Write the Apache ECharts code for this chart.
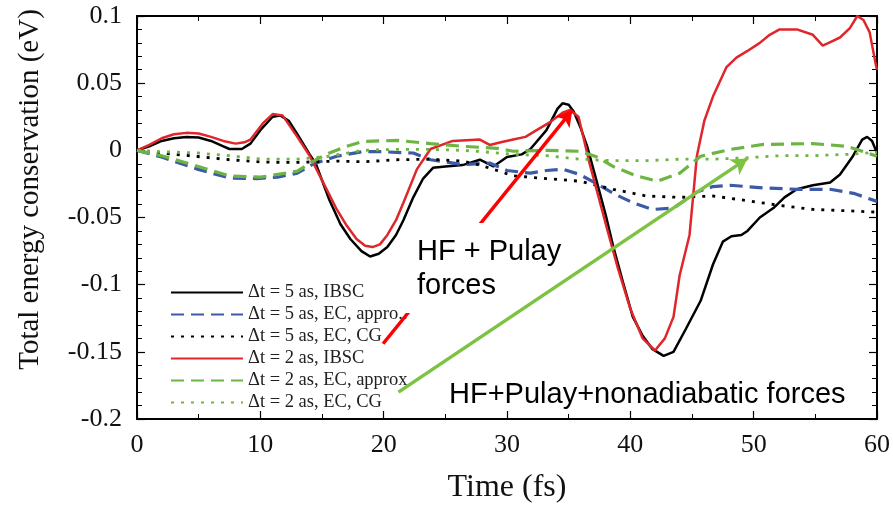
<!DOCTYPE html>
<html>
<head>
<meta charset="utf-8">
<script src="https://cdn.jsdelivr.net/npm/echarts@6/dist/echarts.min.js"></script>
<style>
  html, body { margin: 0; padding: 0; background: #fff; }
  #main { width: 893px; height: 509px; }
</style>
</head>
<body>
<div id="main"></div>
<script>
// values (time in fs, energy in eV)
const tIbsc5 = [0, 1, 2, 3, 4, 5, 6, 7, 7.5, 8.5, 9.2, 10, 11, 11.6, 12.3, 13, 14, 14.5, 15.6, 16.5, 17.3, 18.2, 18.9, 19.6, 20.3, 21, 21.6, 22.4, 23.2, 24, 25, 26.4, 27.8, 28.9, 30, 31.2, 31.9, 33.2, 34.1, 34.5, 35, 35.4, 36, 36.5, 37.3, 38, 38.6, 39.4, 40.2, 41, 41.8, 42.7, 43.5, 44.5, 45.7, 46.7, 47.5, 48.2, 49, 49.5, 50.5, 51.6, 52.5, 53.5, 54.8, 56.2, 57, 58, 58.8, 59.2, 59.6, 60];
const vIbsc5 = [0, 0.003, 0.007, 0.009, 0.010, 0.0095, 0.007, 0.003, 0.001, 0.001, 0.005, 0.015, 0.025, 0.026, 0.022, 0.012, -0.003, -0.010, -0.037, -0.055, -0.066, -0.075, -0.079, -0.077, -0.072, -0.063, -0.052, -0.035, -0.021, -0.013, -0.012, -0.011, -0.007, -0.012, -0.005, -0.003, 0.001, 0.015, 0.031, 0.035, 0.034, 0.029, 0.016, 0.003, -0.024, -0.048, -0.071, -0.098, -0.124, -0.138, -0.148, -0.153, -0.150, -0.133, -0.112, -0.085, -0.068, -0.064, -0.063, -0.060, -0.050, -0.043, -0.035, -0.029, -0.026, -0.024, -0.018, -0.005, 0.008, 0.010, 0.007, -0.002];

const tApprox5 = [0, 2, 4.9, 7.5, 9.7, 11.4, 13, 14.3, 16.2, 18.3, 19.7, 22.4, 23.8, 26.4, 28.6, 30, 31.9, 33.2, 34.5, 35.9, 37.3, 38.6, 40.2, 41.8, 43.5, 45.4, 46.7, 48.1, 50.8, 53.5, 56.2, 58.1, 60];
const vApprox5 = [0, -0.005, -0.014, -0.0206, -0.021, -0.020, -0.017, -0.010, -0.0044, -0.001, -0.001, -0.002, -0.007, -0.0106, -0.0095, -0.015, -0.017, -0.015, -0.014, -0.018, -0.025, -0.032, -0.039, -0.044, -0.043, -0.031, -0.027, -0.026, -0.028, -0.029, -0.029, -0.032, -0.038];

const tCg5 = [0, 2, 4.9, 7.5, 10.2, 13, 16.2, 18.5, 21, 23.8, 26.4, 27.8, 29.2, 30.5, 33.2, 35.9, 38.6, 41.3, 44, 46.7, 49.5, 52.1, 54.8, 57.6, 60];
const vCg5 = [0, -0.002, -0.0046, -0.007, -0.0088, -0.009, -0.008, -0.0085, -0.007, -0.0066, -0.008, -0.011, -0.015, -0.019, -0.021, -0.023, -0.029, -0.034, -0.035, -0.034, -0.0375, -0.041, -0.044, -0.045, -0.046];

const tIbsc2 = [0, 1, 2, 3, 4, 5, 6, 7, 8, 8.7, 9.2, 10.2, 11, 11.8, 13, 14, 15.1, 16.2, 17, 17.8, 18.5, 19.1, 19.7, 20.3, 21, 21.6, 22.7, 23.8, 25.6, 27.8, 28.6, 29.5, 30.5, 31.5, 32.4, 33.5, 34.5, 35.1, 35.8, 36.7, 38.1, 39, 40, 41, 42, 42.8, 43.5, 44, 44.8, 45.4, 46, 46.7, 47.8, 48.6, 49.5, 50.5, 51.3, 52.1, 53.5, 54.8, 55.6, 56.3, 57, 57.8, 58.4, 58.9, 59.4, 59.9, 60];
const vIbsc2 = [0, 0.004, 0.009, 0.012, 0.013, 0.0125, 0.010, 0.007, 0.005, 0.006, 0.008, 0.020, 0.027, 0.026, 0.010, -0.004, -0.024, -0.044, -0.056, -0.066, -0.071, -0.072, -0.070, -0.063, -0.052, -0.039, -0.014, 0.001, 0.007, 0.008, 0.004, 0.006, 0.008, 0.010, 0.015, 0.021, 0.028, 0.030, 0.025, -0.010, -0.058, -0.088, -0.118, -0.140, -0.149, -0.140, -0.124, -0.093, -0.063, -0.004, 0.022, 0.040, 0.062, 0.069, 0.074, 0.080, 0.086, 0.090, 0.090, 0.086, 0.078, 0.081, 0.084, 0.091, 0.100, 0.097, 0.088, 0.064, 0.060];

const tApprox2 = [0, 2, 4.9, 7.5, 10, 13, 14.5, 15.6, 17, 18.3, 21.1, 23.8, 26.4, 29.2, 30.5, 33.2, 35.9, 37.3, 38.6, 40.5, 42.2, 44, 45.7, 48.1, 50.8, 54.8, 57.6, 60];
const vApprox2 = [0, -0.004, -0.0118, -0.019, -0.020, -0.0155, -0.007, -0.002, 0.003, 0.0066, 0.0074, 0.005, 0.003, 0.0015, -0.0007, 0, -0.0007, -0.005, -0.012, -0.019, -0.023, -0.017, -0.0044, 0.0007, 0.0044, 0.005, 0.003, -0.0044];

const tCg2 = [0, 2, 4.9, 7.5, 10.2, 13, 15.6, 18.3, 21.1, 23.8, 26.4, 28, 30.5, 33.2, 35.9, 38.6, 41.3, 44, 46.7, 49.5, 52.1, 54.8, 57.6, 60];
const vCg2 = [0, -0.001, -0.002, -0.004, -0.0066, -0.0066, -0.0044, 0, 0.0007, 0.0007, 0, -0.001, -0.003, -0.004, -0.0066, -0.0077, -0.0077, -0.0066, -0.0066, -0.0055, -0.004, -0.004, -0.003, -0.0015];

const seriesNames = [
  'Δt = 5 as, IBSC',
  'Δt = 5 as, EC, appro..',
  'Δt = 5 as, EC, CG',
  'Δt = 2 as, IBSC',
  'Δt = 2 as, EC, approx',
  'Δt = 2 as, EC, CG'
];

// annotation arrows, in data coordinates [time, energy]
const redArrow = [[19.95, -0.144], [35.3, 0.030]];
const greenArrow = [[21.2, -0.180], [49.5, -0.006]];

const pairs = (t, v) => t.map((x, i) => [x, v[i]]);

const chart = echarts.init(document.getElementById('main'));

const serif = 'Liberation Serif';
const mkLine = (name, t, v, color, type, width) => ({
  name: name,
  type: 'line',
  data: pairs(t, v),
  showSymbol: false,
  symbol: 'none',
  lineStyle: { color: color, type: type, width: width },
  itemStyle: { color: color },
  z: 3
});

const axisBase = (splitNumber) => ({
  axisLine: { onZero: false, lineStyle: { color: '#000', width: 2 } },
  axisTick: { inside: true, length: 8, lineStyle: { color: '#000', width: 1.2 } },
  minorTick: { show: true, splitNumber: splitNumber, length: 5, lineStyle: { color: '#000', width: 1 } },
  splitLine: { show: false }
});

const options = {
  animation: false,
  backgroundColor: '#fff',
  grid: { left: 137, right: 16, top: 16, bottom: 83 },
  legend: {
    data: seriesNames,
    orient: 'vertical',
    left: 165,
    top: 278,
    itemWidth: 72,
    itemHeight: 18,
    itemGap: 3,
    itemStyle: { opacity: 0 },
    textStyle: { fontFamily: serif, fontSize: 18.5, color: '#222' }
  },
  xAxis: [
    Object.assign({
      type: 'value',
      min: 0,
      max: 60,
      interval: 10,
      name: 'Time (fs)',
      nameLocation: 'middle',
      nameGap: 53,
      nameTextStyle: { fontFamily: serif, fontSize: 32, color: '#111' },
      axisLabel: { fontFamily: serif, fontSize: 26, color: '#111', margin: 13 }
    }, axisBase(2)),
    Object.assign({
      type: 'value',
      position: 'top',
      min: 0,
      max: 60,
      interval: 10,
      axisLabel: { show: false }
    }, axisBase(2))
  ],
  yAxis: [
    Object.assign({
      type: 'value',
      min: -0.2,
      max: 0.1,
      interval: 0.05,
      name: 'Total energy conservation (eV)',
      nameLocation: 'middle',
      nameGap: 92,
      nameTextStyle: { fontFamily: serif, fontSize: 29, color: '#111', padding: [0, 0, 0, 56] },
      axisLabel: { fontFamily: serif, fontSize: 26, color: '#111', margin: 15 }
    }, axisBase(5)),
    Object.assign({
      type: 'value',
      position: 'right',
      min: -0.2,
      max: 0.1,
      interval: 0.05,
      axisLabel: { show: false }
    }, axisBase(5))
  ],
  series: [
    mkLine(seriesNames[0], tIbsc5, vIbsc5, '#000000', 'solid', 2.5),
    mkLine(seriesNames[1], tApprox5, vApprox5, '#3c5aa6', [13, 7], 3.2),
    mkLine(seriesNames[2], tCg5, vCg5, '#000000', [3, 7], 2.8),
    mkLine(seriesNames[3], tIbsc2, vIbsc2, '#e0262b', 'solid', 2.5),
    mkLine(seriesNames[4], tApprox2, vApprox2, '#6db543', [13, 7], 3.2),
    mkLine(seriesNames[5], tCg2, vCg2, '#6db543', [3, 7], 2.8),
    {
      name: 'arrows',
      type: 'line',
      data: [],
      silent: true,
      z: 5,
      markLine: {
        silent: true,
        symbol: ['none', 'arrow'],
        symbolSize: [14, 16],
        label: { show: false },
        emphasis: { disabled: true },
        data: [
          [{ coord: redArrow[0], lineStyle: { color: '#ff0000', width: 3.5, type: 'solid' } }, { coord: redArrow[1] }],
          [{ coord: greenArrow[0], lineStyle: { color: '#7dc242', width: 3.5, type: 'solid' } }, { coord: greenArrow[1] }]
        ]
      }
    }
  ],
  graphic: [
    {
      type: 'rect',
      z: 100,
      shape: { x: 405, y: 223, width: 166, height: 48 },
      style: { fill: '#fff' }
    },
    {
      type: 'rect',
      z: 100,
      shape: { x: 405, y: 270, width: 100, height: 43 },
      style: { fill: '#fff' }
    },
    {
      type: 'text',
      z: 101,
      left: 417,
      top: 235,
      style: {
        text: 'HF + Pulay\nforces',
        font: '29px "Liberation Sans"',
        lineHeight: 34,
        fill: '#000'
      }
    },
    {
      type: 'text',
      z: 101,
      left: 449,
      top: 380,
      style: {
        text: 'HF+Pulay+nonadiabatic forces',
        font: '29px "Liberation Sans"',
        fill: '#000'
      }
    }
  ]
};

chart.setOption(options);
</script>
</body>
</html>
